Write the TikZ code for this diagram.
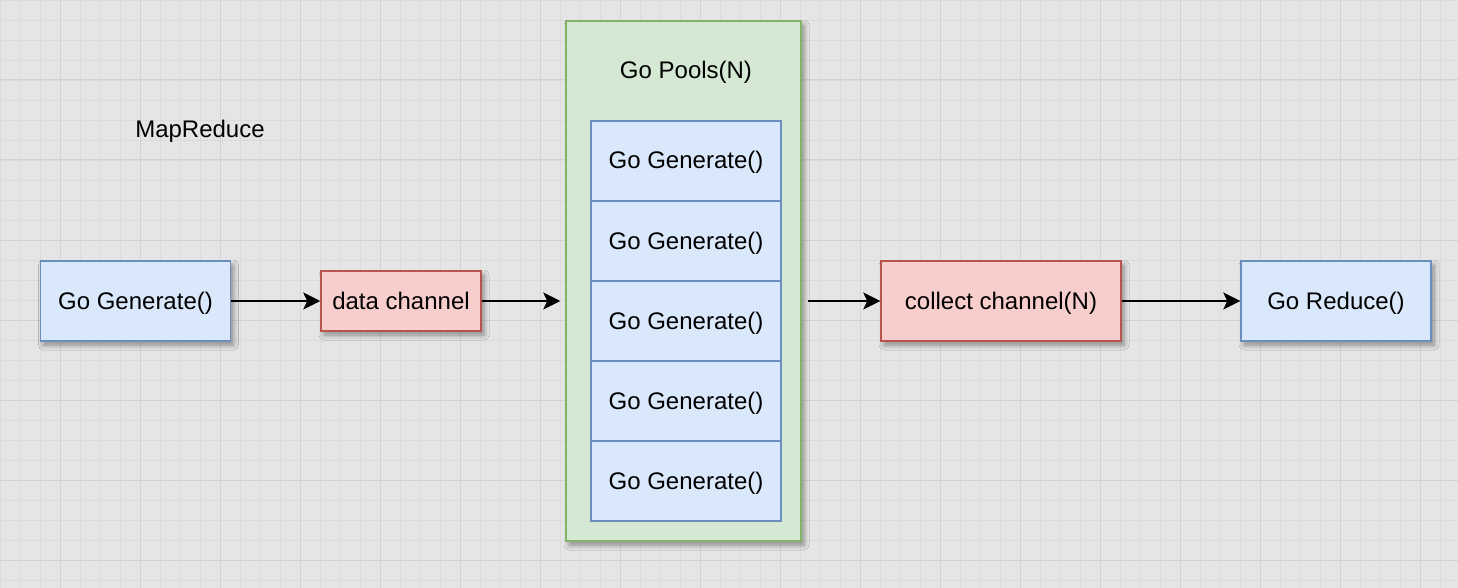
\documentclass[tikz,border=0pt]{standalone}
\usepackage{fontspec}
\setmainfont{Liberation Sans}
\usetikzlibrary{arrows.meta,shadows.blur}
\definecolor{bgc}{HTML}{E5E5E5}
\definecolor{gridminor}{HTML}{DBDBDB}
\definecolor{gridmajor}{HTML}{D2D2D2}
\definecolor{bluefill}{HTML}{DAE8FC}
\definecolor{bluedraw}{HTML}{6C8EBF}
\definecolor{redfill}{HTML}{F8CECC}
\definecolor{reddraw}{HTML}{B85450}
\definecolor{greenfill}{HTML}{D5E8D4}
\definecolor{greendraw}{HTML}{82B366}
\begin{document}
\begin{tikzpicture}[x=1pt,y=-1pt,
  every node/.style={font=\fontsize{24}{29}\selectfont, text=black, inner sep=0pt, text height=19pt, text depth=3pt},
  shad/.style={blur shadow={shadow xshift=3pt, shadow yshift=-4pt, shadow opacity=40, shadow blur radius=5pt, shadow blur steps=6}},
  bluebox/.style={draw=bluedraw, fill=bluefill, line width=1.5pt},
  redbox/.style={draw=reddraw, fill=redfill, line width=1.5pt},
  greenbox/.style={draw=greendraw, fill=greenfill, line width=1.5pt},
  arr/.style={draw=black, line width=2pt, -{Stealth[length=17pt, width=17pt, inset=4pt]}}
]
\useasboundingbox (0,0) rectangle (1458,588);
\fill[bgc] (0,0) rectangle (1458,588);
\foreach \x in {0,20,...,1440} \draw[gridminor, line width=0.8pt] (\x,0) -- (\x,588);
\foreach \y in {0,20,...,580} \draw[gridminor, line width=0.8pt] (0,\y) -- (1458,\y);
\foreach \x in {60,140,...,1420} \draw[gridmajor, line width=1pt] (\x,0) -- (\x,588);
\foreach \y in {0,80,...,560} \draw[gridmajor, line width=1pt] (0,\y) -- (1458,\y);

\node (title) at (200,130) {MapReduce};

\node[bluebox, shad, minimum width=190pt, minimum height=80pt] (gen) at (135.5,301) {Go Generate()};
\node[redbox, shad, minimum width=160pt, minimum height=60pt] (data) at (401,301) {data channel};
\node[greenbox, shad, minimum width=235pt, minimum height=520pt] (pool) at (683.5,281) {};
\node (pooltitle) at (686,71) {Go Pools(N)};
\foreach \i/\yy in {1/161,2/241,3/321,4/401,5/481}
  \node[bluebox, minimum width=190pt, minimum height=80pt] (w\i) at (686,\yy) {Go Generate()};
\node[redbox, shad, minimum width=240pt, minimum height=80pt] (coll) at (1001,301) {collect channel(N)};
\node[bluebox, shad, minimum width=190pt, minimum height=80pt] (red) at (1336,301) {Go Reduce()};

\draw[arr] (gen.east) -- (data.west);
\draw[arr, shorten >=5pt] (data.east) -- (data.east -| pool.west);
\draw[arr, shorten <=6pt] (coll.west -| pool.east) -- (coll.west);
\draw[arr] (coll.east) -- (red.west);
\end{tikzpicture}
\end{document}
